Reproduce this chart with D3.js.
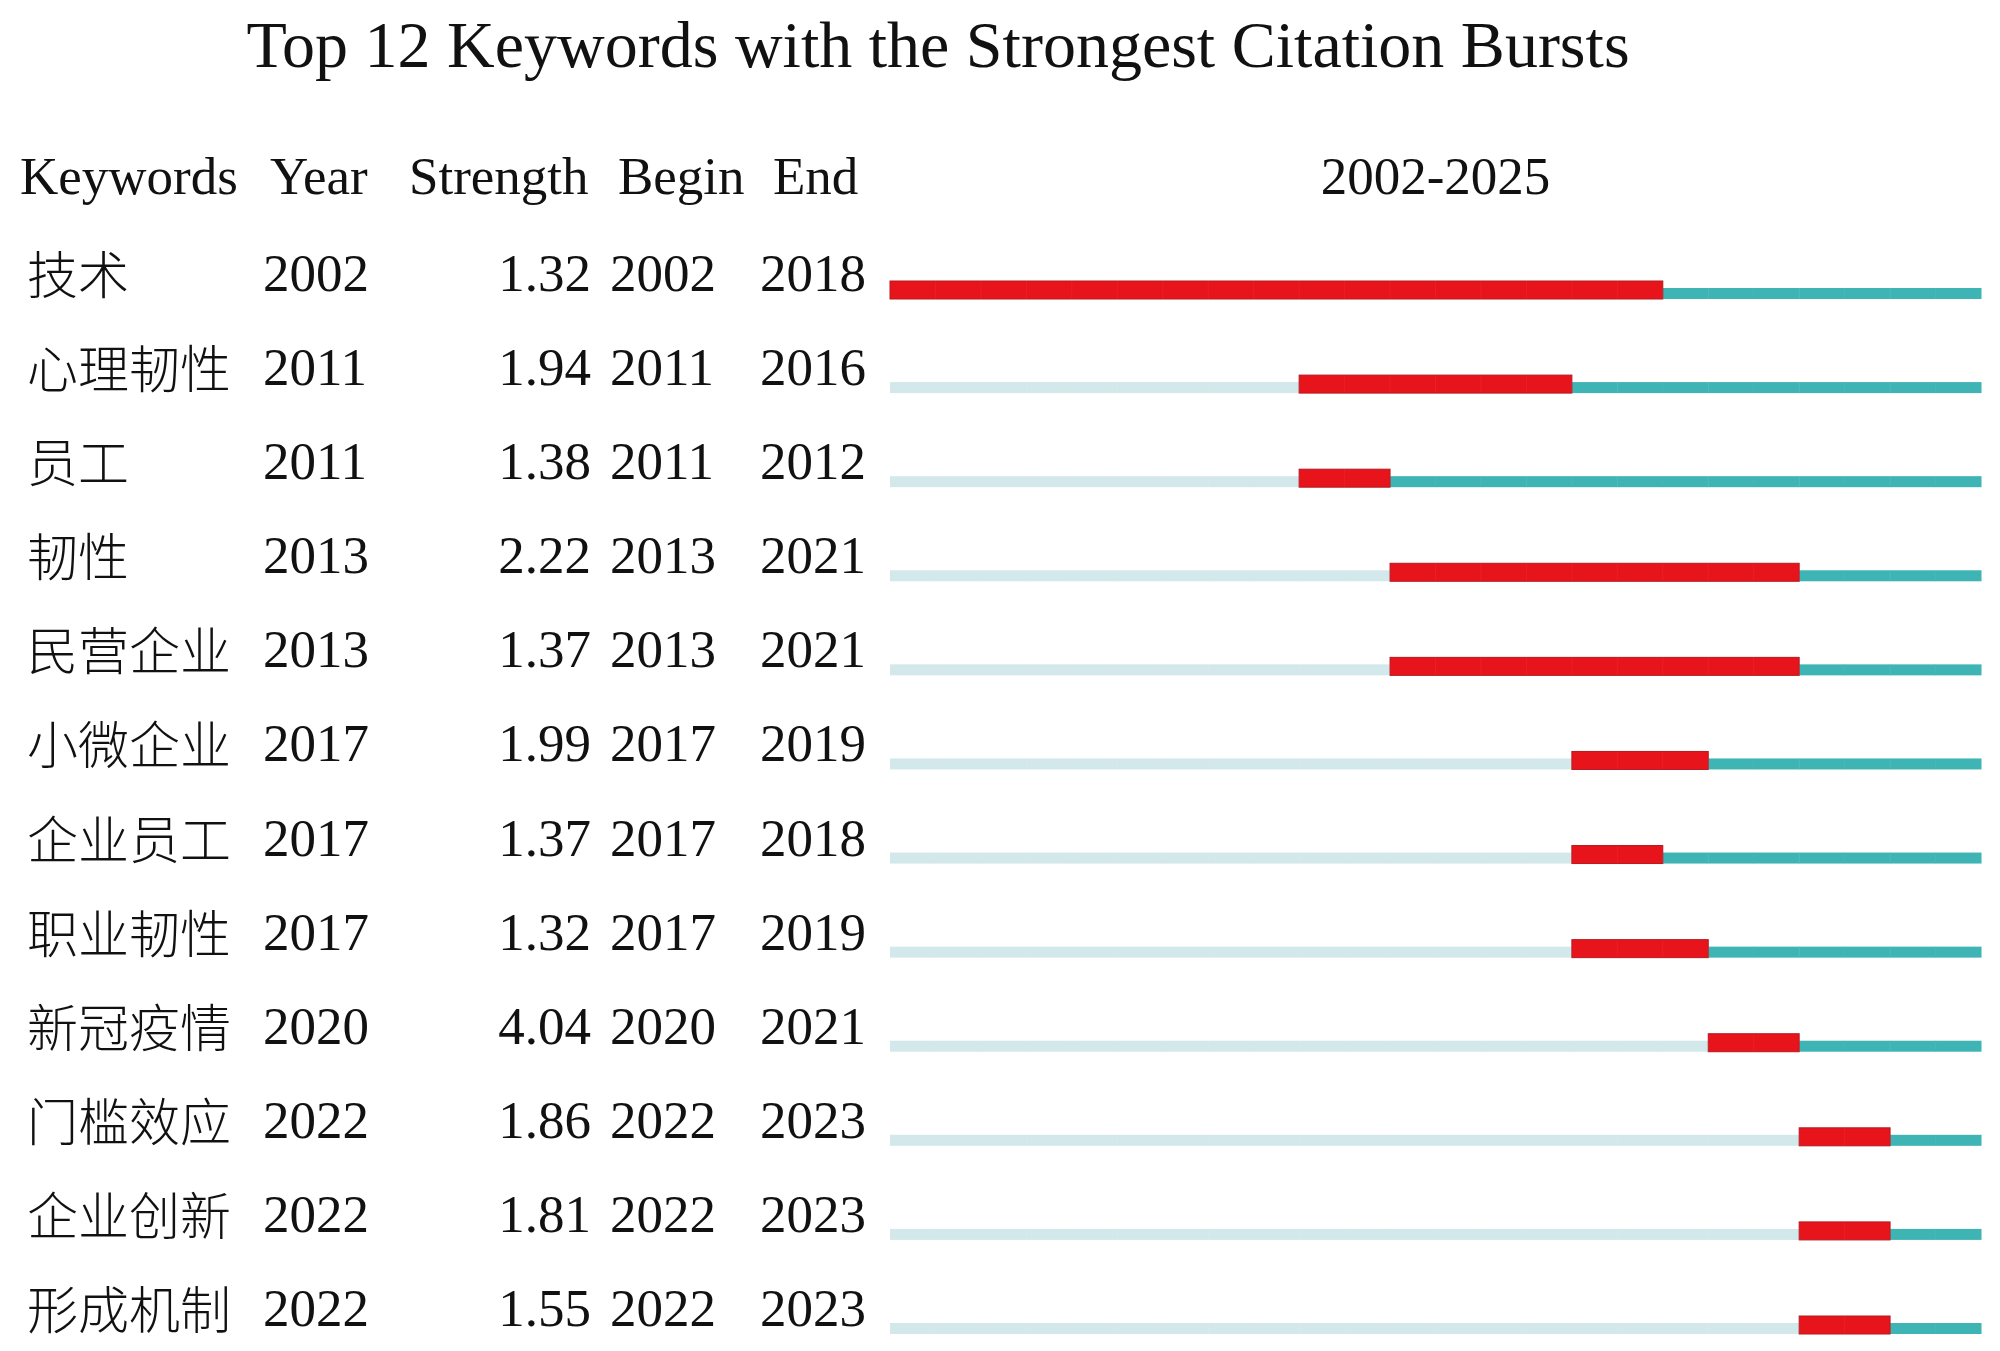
<!DOCTYPE html>
<html>
<head>
<meta charset="utf-8">
<script src="https://cdn.jsdelivr.net/npm/d3@7"></script>
<style>
  html, body { margin: 0; padding: 0; background: #fff; }
  svg text { font-family: "Liberation Serif", "Noto Sans CJK SC", serif; fill: #111; }
  .kw { font-family: "Noto Sans CJK SC", sans-serif; font-weight: 300; }
</style>
</head>
<body>
<div id="chart"></div>
<script>
// Burst table data
const keywords = ['技术', '心理韧性', '员工', '韧性', '民营企业', '小微企业', '企业员工', '职业韧性', '新冠疫情', '门槛效应', '企业创新', '形成机制'];
const years = [2002, 2011, 2011, 2013, 2013, 2017, 2017, 2017, 2020, 2022, 2022, 2022];
const strengths = [1.32, 1.94, 1.38, 2.22, 1.37, 1.99, 1.37, 1.32, 4.04, 1.86, 1.81, 1.55];
const begins = [2002, 2011, 2011, 2013, 2013, 2017, 2017, 2017, 2020, 2022, 2022, 2022];
const ends = [2018, 2016, 2012, 2021, 2021, 2019, 2018, 2019, 2021, 2023, 2023, 2023];
const yearRange = [2002, 2025];
const headers = ['Keywords', 'Year', 'Strength', 'Begin', 'End'];

const width = 2000, height = 1351;

const svg = d3.select('#chart')
    .append('svg')
    .attr('width', width)
    .attr('height', height);

const rows = keywords.map((k, i) => ({
    keyword: k,
    year: years[i],
    strength: strengths[i],
    begin: begins[i],
    end: ends[i]
}));

// Scales
const x = d3.scaleBand()
    .domain(d3.range(yearRange[0], yearRange[1] + 1))
    .range([890, 1981])
    .paddingInner(0);

const y = d3.scalePoint()
    .domain(d3.range(rows.length))
    .range([291, 1326]);

// Title
svg.append('text')
    .attr('x', 938)
    .attr('y', 67)
    .attr('text-anchor', 'middle')
    .style('font-size', '66px')
    .text('Top 12 Keywords with the Strongest Citation Bursts');

// Column headers
const headerX = [20, 270, 409, 618, 773];
svg.append('g')
    .selectAll('text')
    .data(headers)
    .enter()
    .append('text')
    .attr('x', (d, i) => headerX[i])
    .attr('y', 194)
    .style('font-size', '53px')
    .text(d => d);

svg.append('text')
    .attr('x', (x.range()[0] + x.range()[1]) / 2)
    .attr('y', 194)
    .attr('text-anchor', 'middle')
    .style('font-size', '53px')
    .text(`${yearRange[0]}-${yearRange[1]}`);

// Table rows
const rowG = svg.append('g')
    .selectAll('g')
    .data(rows)
    .enter()
    .append('g')
    .attr('transform', (d, i) => `translate(0,${y(i)})`);

rowG.append('text')
    .attr('class', 'kw')
    .attr('x', 27)
    .attr('y', 3)
    .style('font-size', '51px')
    .text(d => d.keyword);

rowG.append('text')
    .attr('x', 263)
    .style('font-size', '53px')
    .text(d => d.year);

rowG.append('text')
    .attr('x', 591)
    .attr('text-anchor', 'end')
    .style('font-size', '53px')
    .text(d => d.strength.toFixed(2));

rowG.append('text')
    .attr('x', 610)
    .style('font-size', '53px')
    .text(d => d.begin);

rowG.append('text')
    .attr('x', 760)
    .style('font-size', '53px')
    .text(d => d.end);

// Burst bars: one cell per year, bottom aligned
const thin = 11, thick = 18, bottom = 8;

rowG.each(function (d) {
    const g = d3.select(this);
    const cells = x.domain().map(yr => ({
        yr,
        state: yr < d.year ? 'before' : (yr >= d.begin && yr <= d.end ? 'burst' : 'after')
    }));

    // thin background cells
    g.selectAll('rect.cell')
        .data(cells.filter(c => c.state !== 'burst'))
        .enter()
        .append('rect')
        .attr('class', 'cell')
        .attr('x', c => x(c.yr))
        .attr('y', bottom - thin)
        .attr('width', x.bandwidth() + 0.5)
        .attr('height', thin)
        .attr('fill', c => c.state === 'before' ? '#d3e8ea' : '#3fb4b5');

    // burst block
    g.append('rect')
        .attr('x', x(d.begin))
        .attr('y', bottom - thick)
        .attr('width', x(d.end) + x.bandwidth() - x(d.begin))
        .attr('height', thick)
        .attr('fill', '#e8141c')
        .attr('stroke', '#b51a20')
        .attr('stroke-width', 1);

    // faint year dividers
    g.selectAll('line.div')
        .data(x.domain().slice(1))
        .enter()
        .append('line')
        .attr('class', 'div')
        .attr('x1', yr => x(yr))
        .attr('x2', yr => x(yr))
        .attr('y1', yr => bottom - (yr > d.begin && yr <= d.end ? thick : thin))
        .attr('y2', bottom)
        .attr('stroke', '#ffffff')
        .attr('stroke-opacity', 0.05)
        .attr('stroke-width', 1);
});
</script>
</body>
</html>
